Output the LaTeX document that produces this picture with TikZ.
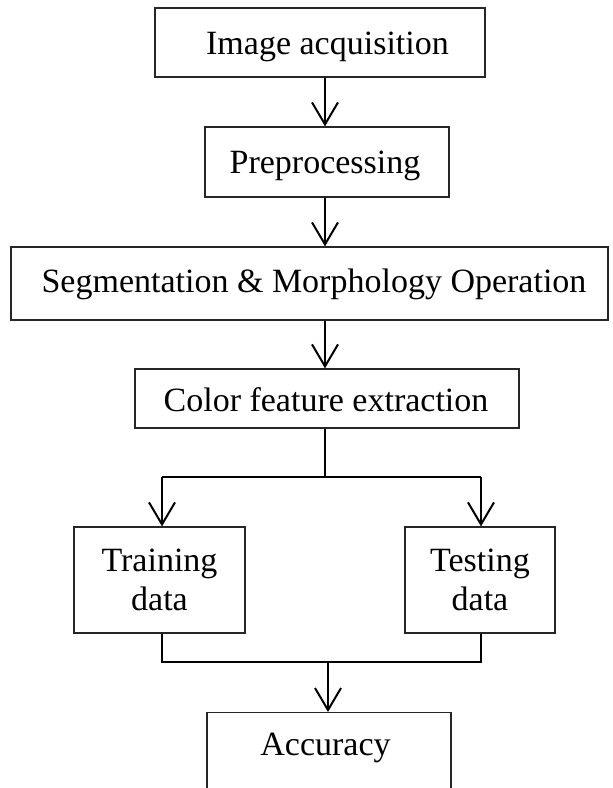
\documentclass[tikz,border=0pt]{standalone}
\usepackage{fontspec}
\setmainfont{Liberation Serif}
\usetikzlibrary{arrows.meta}
\begin{document}
\begin{tikzpicture}[x=1pt,y=-1pt,
  box/.style={draw=black!85,line width=1.3pt,inner sep=0pt},
  txt/.style={inner sep=0pt,align=center,anchor=base,font=\fontsize{34}{39}\selectfont},
  arr/.style={draw=black,line width=2pt,-{Straight Barb[length=22pt,width=26pt,line width=2pt]}},
  ln/.style={draw=black,line width=2pt}]
\useasboundingbox (0,0) rectangle (613,788);
\clip (0,0) rectangle (613,788);
% boxes
\node[box,minimum width=330pt,minimum height=69pt] (A) at (320,42.5) {};
\node[box,minimum width=244pt,minimum height=70pt] (B) at (327,162) {};
\node[box,minimum width=597pt,minimum height=73pt] (C) at (309.5,283.5) {};
\node[box,minimum width=384pt,minimum height=59pt] (D) at (327,398.5) {};
\node[box,minimum width=171pt,minimum height=106pt] (T1) at (159.5,580) {};
\node[box,minimum width=150pt,minimum height=106pt] (T2) at (480,580) {};
\node[box,minimum width=244pt,minimum height=88pt,anchor=north] (E) at (329,712) {};
% texts
\node[txt] (At) at (327.5,54) {Image acquisition};
\node[txt] (Bt) at (325,173) {Preprocessing};
\node[txt] (Ct) at (314,292) {Segmentation \& Morphology Operation};
\node[txt] (Dt) at (326,411.5) {Color feature extraction};
\node[txt,anchor=center] (T1t) at (159.5,580) {Training\\data};
\node[txt,anchor=center] (T2t) at (480,580) {Testing\\data};
\node[txt] (Et) at (325.5,755) {Accuracy};
% connectors
\coordinate (sp) at (325,0);
\coordinate (j1) at (325,477);
\coordinate (jl) at (162,477);
\coordinate (jr) at (481,477);
\coordinate (j2) at (328,662);
\draw[arr] (A.south -| sp) -- (B.north -| sp);
\draw[arr] (B.south -| sp) -- (C.north -| sp);
\draw[arr] (C.south -| sp) -- (D.north -| sp);
\draw[ln] (D.south -| sp) -- (j1);
\draw[ln] (jl) -- (jr);
\draw[arr] (jl) -- (jl |- T1.north);
\draw[arr] (jr) -- (jr |- T2.north);
\draw[ln] (jl |- T1.south) |- (j2) -| (jr |- T2.south);
\draw[arr] (j2) -- (j2 |- E.north);
\end{tikzpicture}
\end{document}
